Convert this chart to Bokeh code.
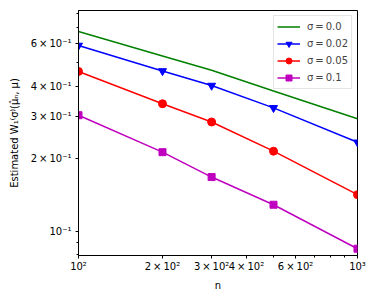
from bokeh.plotting import figure
from bokeh.models import FixedTicker, Range1d, Legend
from bokeh.embed import file_html
from bokeh.resources import INLINE

n = [100, 200, 300, 500, 1000]
sigma_labels = ["σ\u2009=\u20090.0", "σ\u2009=\u20090.02", "σ\u2009=\u20090.05", "σ\u2009=\u20090.1"]
w_s000 = [0.673, 0.533, 0.465, 0.382, 0.293]
w_s002 = [0.589, 0.462, 0.402, 0.325, 0.234]
w_s005 = [0.460, 0.338, 0.284, 0.215, 0.142]
w_s010 = [0.303, 0.213, 0.168, 0.129, 0.0848]

x_major = [100, 200, 300, 400, 600, 1000]
x_minor = [500, 700, 800, 900]
x_labels = ["10²", "2\u2009×\u200910²", "3\u2009×\u200910²", "4\u2009×\u200910²", "6\u2009×\u200910²", "10³"]
y_major = [0.1, 0.2, 0.3, 0.4, 0.6]
y_minor = [0.08, 0.09, 0.5, 0.7, 0.8]
y_labels = ["10⁻¹", "2\u2009×\u200910⁻¹", "3\u2009×\u200910⁻¹", "4\u2009×\u200910⁻¹", "6\u2009×\u200910⁻¹"]

FONT = "DejaVu Sans"

p = figure(width=373, height=297, x_axis_type="log", y_axis_type="log",
           output_backend="svg", toolbar_location=None,
           x_range=Range1d(100, 1000), y_range=Range1d(0.0795, 0.8226),
           min_border_left=78, min_border_right=16, min_border_top=10, min_border_bottom=42)
p.xgrid.visible = False
p.ygrid.visible = False
p.outline_line_color = "black"
p.outline_line_alpha = 1.0
p.background_fill_color = "white"
p.border_fill_color = "white"

p.xaxis.ticker = FixedTicker(ticks=x_major, minor_ticks=x_minor)
p.yaxis.ticker = FixedTicker(ticks=y_major, minor_ticks=y_minor)
p.xaxis.major_label_overrides = {t: l for t, l in zip(x_major, x_labels)}
p.yaxis.major_label_overrides = {t: l for t, l in zip(y_major, y_labels)}

for ax in (p.xaxis[0], p.yaxis[0]):
    ax.major_label_text_font = FONT
    ax.major_label_text_font_size = "10px"
    ax.major_label_text_color = "black"
    ax.axis_label_text_font = FONT
    ax.axis_label_text_font_size = "10px"
    ax.axis_label_text_font_style = "normal"
    ax.axis_label_text_color = "black"
    ax.major_tick_out = 3
    ax.major_tick_in = 0
    ax.minor_tick_out = 2
    ax.minor_tick_in = 0
    ax.axis_line_color = "black"
    ax.major_tick_line_color = "black"
    ax.minor_tick_line_color = "black"

p.yaxis.major_label_standoff = 4
p.xaxis.major_label_standoff = 2
p.xaxis.axis_label = "n"
p.xaxis.axis_label_standoff = 5
p.yaxis.axis_label = "Estimated W₁⁽σ⁾(μ̂ₙ, μ)"
p.yaxis.axis_label_standoff = 8

items = []
r0 = p.line(n, w_s000, line_color="#008000", line_width=1.5)
items.append((sigma_labels[0], [r0]))

r1 = p.line(n, w_s002, line_color="#0000ff", line_width=1.5)
m1 = p.scatter(n, w_s002, marker="inverted_triangle", size=8, fill_color="#0000ff", line_color="#0000ff")
items.append((sigma_labels[1], [r1, m1]))

r2 = p.line(n, w_s005, line_color="#ff0000", line_width=1.5)
m2 = p.scatter(n, w_s005, marker="circle", size=8, fill_color="#ff0000", line_color="#ff0000")
items.append((sigma_labels[2], [r2, m2]))

r3 = p.line(n, w_s010, line_color="#bf00bf", line_width=1.5)
m3 = p.scatter(n, w_s010, marker="square", size=7, fill_color="#bf00bf", line_color="#bf00bf")
items.append((sigma_labels[3], [r3, m3]))

legend = Legend(items=items, location="top_right")
legend.margin = 5
legend.padding = 3
legend.spacing = 2
legend.glyph_width = 23
legend.glyph_height = 15
legend.label_height = 15
legend.label_standoff = 7
legend.label_text_font = FONT
legend.label_text_font_size = "10px"
legend.border_line_color = "#cccccc"
legend.border_line_width = 1
legend.background_fill_alpha = 0.8
p.add_layout(legend, "center")

open("out.html", "w").write(file_html(p, INLINE))
